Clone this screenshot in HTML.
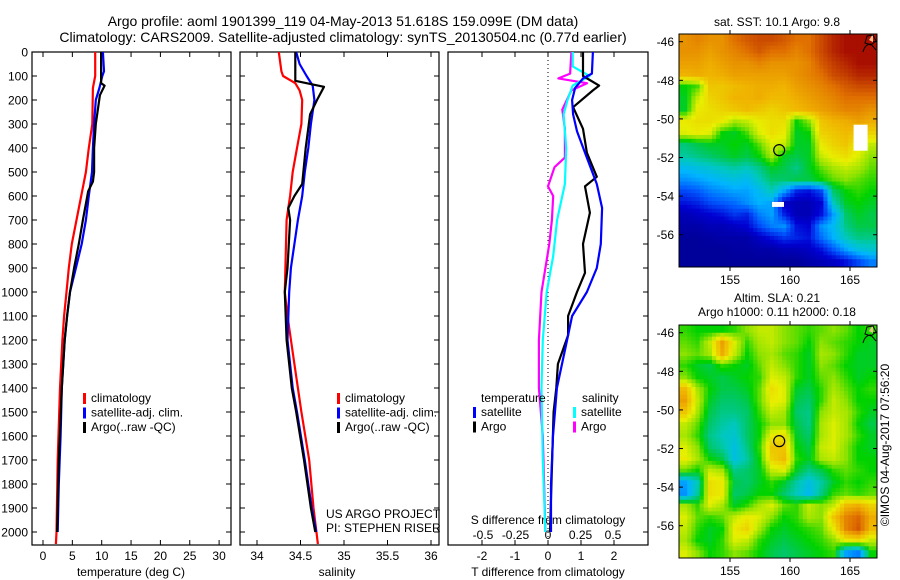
<!DOCTYPE html>
<html><head><meta charset="utf-8"><style>
html,body{margin:0;padding:0;background:#fff}
svg{display:block;font-family:"Liberation Sans",sans-serif}
</style></head><body>
<svg id="fig" width="900" height="580" viewBox="0 0 900 580" xmlns="http://www.w3.org/2000/svg">
<rect width="900" height="580" fill="#fff"/>
<text x="343" y="26" font-size="14" text-anchor="middle">Argo profile: aoml 1901399_119 04-May-2013 51.618S 159.099E (DM data)</text>
<text x="343" y="42" font-size="14" text-anchor="middle">Climatology: CARS2009. Satellite-adjusted climatology: synTS_20130504.nc (0.77d earlier)</text>
<g id="plots"></g>
</svg>
<script>
// ---------- DATA ----------
const depthTicks=[0,100,200,300,400,500,600,700,800,900,1000,1100,1200,1300,1400,1500,1600,1700,1800,1900,2000];
const tempTicks=[0,5,10,15,20,25,30];
const salTicks=[34,34.5,35,35.5,36];
const salTickLabels=["34","34.5","35","35.5","36"];
const tdiffTicks=[-2,-1,0,1,2];
const sdiffTicks=[-0.5,-0.25,0,0.25,0.5];
const sdiffTickLabels=["-0.5","-0.25","0","0.25","0.5"];

const tClimDepth=[0,100,150,300,400,500,600,700,800,900,1000,1100,1200,1400,1700,2000,2050];
const tClimVal=[8.9,8.9,8.5,8.4,7.8,7.3,6.5,5.7,4.9,4.4,4.0,3.6,3.3,2.9,2.5,2.3,2.2];
const tSatDepth=[0,80,100,150,200,300,400,500,600,700,800,900,1000,1100,1200,1400,1600,1800,2000];
const tSatVal=[10.2,10.4,10.1,9.6,9.0,8.7,8.5,8.35,7.8,7.3,6.6,5.6,4.6,4.1,3.7,3.2,3.0,2.7,2.5];
const tArgoDepth=[0,130,140,180,300,400,500,540,580,700,800,900,1000,1100,1200,1400,1700,2000];
const tArgoVal=[9.9,9.9,10.5,9.7,9.0,8.7,8.7,8.5,7.7,6.8,6.1,5.3,4.6,4.1,3.7,3.2,2.7,2.4];

const sClimDepth=[0,80,100,130,160,200,300,400,500,600,650,700,1000,1100,1300,1500,1700,1900,2050];
const sClimVal=[34.25,34.28,34.30,34.44,34.49,34.52,34.51,34.46,34.41,34.38,34.36,34.34,34.32,34.35,34.43,34.51,34.60,34.65,34.70];
const sSatDepth=[0,50,100,140,200,300,400,500,600,700,800,900,1000,1200,1400,1500,1700,1900,2000];
const sSatVal=[34.45,34.49,34.57,34.64,34.66,34.62,34.59,34.55,34.52,34.47,34.43,34.39,34.37,34.35,34.41,34.46,34.55,34.63,34.68];
const sArgoDepth=[0,120,130,145,200,260,400,550,600,650,700,900,1000,1200,1400,1500,1700,1900,2000];
const sArgoVal=[34.44,34.44,34.57,34.77,34.69,34.61,34.56,34.52,34.43,34.36,34.38,34.35,34.32,34.34,34.40,34.45,34.54,34.62,34.67];

const dtSatDepth=[0,90,110,150,200,260,330,420,550,650,800,900,1000,1100,1200,1400,1600,1800,2000];
const dtSatVal=[1.36,1.33,1.06,0.82,0.73,0.76,0.88,1.12,1.48,1.64,1.6,1.48,1.18,0.73,0.58,0.27,0.15,0.09,0.09];
const dtArgoDepth=[0,100,140,160,230,320,420,520,560,670,800,920,1000,1100,1180,1300,1400,1500,2000];
const dtArgoVal=[1.06,1.06,1.55,1.36,0.76,1.06,1.18,1.48,1.12,1.27,1.06,1.12,0.88,0.61,0.61,0.3,0.25,0.17,0.06];
const dsSatDepth=[0,60,100,140,200,260,400,550,700,850,1000,1200,1400,1700,2000];
const dsSatVal=[0.19,0.19,0.32,0.19,0.15,0.12,0.14,0.13,0.07,0.04,-0.01,-0.04,-0.05,-0.04,-0.02];
const dsArgoDepth=[0,90,110,130,160,240,320,440,480,560,600,700,800,900,1000,1100,1200,1400,1600,1800,2000];
const dsArgoVal=[0.18,0.17,0.08,0.30,0.18,0.11,0.13,0.13,0.05,0.0,0.04,0.03,0.01,-0.02,-0.05,-0.06,-0.07,-0.07,-0.04,-0.03,-0.02];

const mapLatTicks=[-46,-48,-50,-52,-54,-56];
const mapLonTicks=[155,160,165];
const sstGrid=[
[80,82,80,80,85,88,90,90,88,85,85,90,95,98,98,98],
[80,80,78,80,82,85,88,85,85,82,85,90,95,98,98,98],
[78,78,76,78,80,80,82,80,80,80,82,88,92,95,98,98],
[75,76,75,76,78,78,78,78,78,80,82,85,90,92,95,95],
[52,55,72,72,74,75,76,76,75,78,80,82,85,88,90,90],
[50,62,70,72,75,75,76,74,74,76,78,80,82,85,85,85],
[50,66,68,70,72,74,72,70,72,74,76,78,80,82,82,80],
[66,68,68,66,60,62,66,68,68,52,58,72,75,76,78,76],
[64,66,64,52,50,55,64,68,66,50,52,70,72,74,72,70],
[45,48,50,50,52,50,56,64,62,50,50,66,70,72,66,62],
[42,44,46,48,50,48,52,60,50,48,50,62,66,68,64,58],
[34,36,38,40,42,40,44,50,48,44,50,56,60,62,60,56],
[28,30,32,34,36,34,40,46,46,48,48,52,56,58,56,54],
[20,22,26,28,30,30,34,40,30,16,14,20,46,52,54,52],
[14,16,20,22,24,28,32,30,10,8,8,12,40,50,52,50],
[8,10,12,14,18,16,26,30,16,8,8,14,30,46,50,48],
[6,6,8,8,10,12,20,26,28,14,12,28,34,44,48,48],
[4,4,5,6,6,6,10,14,18,16,14,24,32,40,44,44],
[4,4,4,4,5,5,6,6,8,8,10,14,22,30,36,38],
[4,4,4,4,4,4,4,4,4,4,6,8,10,14,20,26]];
const slaGrid=[
[54,52,52,52,54,58,62,62,58,56,54,56,58,56,52,54],
[56,54,62,78,64,54,60,62,58,56,52,58,56,54,52,50],
[58,56,60,76,62,52,58,60,56,54,50,60,58,54,50,50],
[54,50,48,54,52,50,56,62,58,54,50,58,56,52,50,50],
[58,52,50,48,50,52,54,64,62,54,50,56,58,54,50,52],
[74,60,52,48,48,50,56,68,64,50,48,54,60,56,52,54],
[78,62,50,46,46,48,56,66,64,48,46,54,62,58,52,52],
[72,60,48,44,44,46,54,62,60,46,44,58,62,60,54,50],
[62,56,46,42,40,46,52,58,58,48,44,60,64,60,52,48],
[60,54,44,40,38,46,52,66,68,50,46,60,64,60,54,50],
[64,58,46,42,36,44,54,72,72,52,48,62,64,58,52,50],
[66,60,52,48,36,42,52,70,74,54,50,60,62,58,52,52],
[56,52,62,60,44,46,50,62,64,50,44,48,54,56,54,52],
[30,40,68,66,48,46,50,54,50,42,36,42,50,54,52,54],
[28,42,68,66,46,48,52,52,46,40,34,44,54,56,54,56],
[60,54,64,60,50,54,60,64,56,54,62,58,62,74,76,70],
[64,56,54,56,62,66,64,58,52,54,60,58,72,82,86,76],
[62,54,50,52,66,70,60,52,50,52,54,56,66,82,88,74],
[60,52,50,54,64,62,54,50,48,50,52,54,58,66,68,62],
[64,58,52,54,58,56,52,48,46,48,50,52,54,30,26,52]];
const argoLon=159.099, argoLat=-51.618;

// ---------- HELPERS ----------
const NS="http://www.w3.org/2000/svg";
const root=document.getElementById('plots');
function mk(tag,attrs,parent){const e=document.createElementNS(NS,tag);for(const k in attrs)e.setAttribute(k,attrs[k]);(parent||root).appendChild(e);return e;}
function txt(x,y,s,size,anchor,parent){const e=mk('text',{x:x,y:y,'font-size':size,'text-anchor':anchor||'middle'},parent);e.textContent=s;return e;}
const PT=52,PB=545,yD=d=>PT+d*0.24;
const xT=t=>43+t*5.87, xS=s=>257+(s-34)*87, xDT=v=>548+v*33, xDS=v=>548+v*130;

function panel(x0,x1,leftTicks,rightTicks,name){
  const g=mk('g',{});
  
  
  mk('rect',{x:x0,y:PT,width:x1-x0,height:PB-PT,fill:'none',stroke:'#000','stroke-width':1.2},g);
  depthTicks.forEach(d=>{
    if(leftTicks)mk('line',{x1:x0,x2:x0+5,y1:yD(d),y2:yD(d),stroke:'#000'},g);
    if(rightTicks)mk('line',{x1:x1-5,x2:x1,y1:yD(d),y2:yD(d),stroke:'#000'},g);
  });
  return g;
}
function xticks(g,vals,labels,fx,ly){
  vals.forEach((v,i)=>{const x=fx(v);
    mk('line',{x1:x,x2:x,y1:PT,y2:PT+5,stroke:'#000'},g);
    mk('line',{x1:x,x2:x,y1:PB-5,y2:PB,stroke:'#000'},g);
    const t=txt(x,ly,labels[i],12,'middle',g);
    
    
  });
}
function line(g,depths,vals,fx,color,name,w){
  const pts=depths.map((d,i)=>fx(vals[i]).toFixed(1)+','+yD(d).toFixed(1)).join(' ');
  const p=mk('polyline',{points:pts,fill:'none',stroke:color,'stroke-width':w||2.2,'stroke-linejoin':'round'},g);
  
  
}
function legend(g,x,y,items){
  items.forEach((it,i)=>{
    const yy=y+i*14.5;
    mk('rect',{x:x,y:yy-9,width:3,height:11,fill:it[0]},g);
    const t=txt(x+8,yy,it[1],12,'start',g);
    
    
  });
}

// ---------- PANEL 1: temperature ----------
const p1=panel(32,231,true,true,'temperature-panel');
depthTicks.forEach(d=>{const t=txt(28,yD(d)+4.5,String(d),12,'end',p1);
  
  });
xticks(p1,tempTicks,tempTicks.map(String),xT,560);
txt(131,576,'temperature (deg C)',12,'middle',p1);
line(p1,tClimDepth,tClimVal,xT,'#ff0000','temp-climatology-line');
line(p1,tSatDepth,tSatVal,xT,'#0000ff','temp-satellite-line');
line(p1,tArgoDepth,tArgoVal,xT,'#000000','temp-argo-line');
legend(p1,83,402,[['#ff0000','climatology'],['#0000ff','satellite-adj. clim.'],['#000','Argo(..raw -QC)']]);

// ---------- PANEL 2: salinity ----------
const p2=panel(240,439,true,true,'salinity-panel');
xticks(p2,salTicks,salTickLabels,xS,560);
txt(337,576,'salinity',12,'middle',p2);
line(p2,sClimDepth,sClimVal,xS,'#ff0000','sal-climatology-line');
line(p2,sSatDepth,sSatVal,xS,'#0000ff','sal-satellite-line');
line(p2,sArgoDepth,sArgoVal,xS,'#000000','sal-argo-line');
legend(p2,337,402,[['#ff0000','climatology'],['#0000ff','satellite-adj. clim.'],['#000','Argo(..raw -QC)']]);
txt(326,518,'US ARGO PROJECT',12,'start',p2);
txt(326,532,'PI: STEPHEN RISER',12,'start',p2);

// ---------- PANEL 3: differences ----------
const p3=panel(448,648,false,true,'difference-panel');
tdiffTicks.forEach(v=>{const x=xDT(v);
  mk('line',{x1:x,x2:x,y1:PT,y2:PT+5,stroke:'#000'},p3);
  mk('line',{x1:x,x2:x,y1:PB-5,y2:PB,stroke:'#000'},p3);
  const t=txt(x,560,String(v),12,'middle',p3);
  
  });
sdiffTicks.forEach((v,i)=>{const t=txt(xDS(v),539,sdiffTickLabels[i],12,'middle',p3);
  
  });
txt(548,524,'S difference from climatology',12,'middle',p3);
txt(548,576,'T difference from climatology',12,'middle',p3);
mk('line',{x1:xDT(0),x2:xDT(0),y1:PT,y2:PB,stroke:'#000','stroke-dasharray':'1,3'},p3);
line(p3,dsArgoDepth,dsArgoVal,xDS,'#ff00ff','sdiff-argo-line');
line(p3,dsSatDepth,dsSatVal,xDS,'#00ffff','sdiff-satellite-line');
line(p3,dtArgoDepth,dtArgoVal,xDT,'#000000','tdiff-argo-line');
line(p3,dtSatDepth,dtSatVal,xDT,'#0000ff','tdiff-satellite-line');
txt(481,402,'temperature',12,'start',p3);
txt(582,402,'salinity',12,'start',p3);
legend(p3,473,416,[['#0000ff','satellite'],['#000','Argo']]);
legend(p3,573,416,[['#00ffff','satellite'],['#ff00ff','Argo']]);

// ---------- MAPS ----------
const stops=[[0,[0,0,128]],[0.12,[0,0,210]],[0.22,[0,90,255]],[0.32,[0,180,255]],[0.4,[0,200,190]],[0.47,[0,200,90]],[0.52,[0,210,0]],[0.58,[140,226,0]],[0.65,[232,240,0]],[0.75,[240,180,0]],[0.85,[224,112,0]],[1,[160,0,0]]];
function cmap(v){v=Math.max(0,Math.min(1,v));for(let i=1;i<stops.length;i++){if(v<=stops[i][0]){const a=stops[i-1],b=stops[i],f=(v-a[0])/(b[0]-a[0]);const c=a[1].map((q,j)=>Math.round(q+(b[1][j]-q)*f));return 'rgb('+c.join(',')+')';}}return 'rgb(160,0,0)';}
const MX0=679,MX1=877,SUB=3;
const mLon=l=>MX0+(l-150.75)*12;
function sample(grid,fy,fx){
  const R=grid.length,C=grid[0].length;
  fy=Math.max(0,Math.min(R-1,fy));fx=Math.max(0,Math.min(C-1,fx));
  const r0=Math.floor(fy),c0=Math.floor(fx),r1=Math.min(R-1,r0+1),c1=Math.min(C-1,c0+1),a=fy-r0,b=fx-c0;
  return grid[r0][c0]*(1-a)*(1-b)+grid[r0][c1]*(1-a)*b+grid[r1][c0]*a*(1-b)+grid[r1][c1]*a*b;
}
function drawMap(top,grid,name){
  const bot=top+233;const mLat=la=>top+(-45.6-la)*19.3;
  const g=mk('g',{});
  
  
  const rows=grid.length,cols=grid[0].length,cw=(MX1-MX0)/cols/SUB,ch=(bot-top)/rows/SUB;
  for(let r=0;r<rows*SUB;r++)for(let c=0;c<cols*SUB;c++){
    const v=sample(grid,(r+0.5)/SUB-0.5,(c+0.5)/SUB-0.5);
    const cell=mk('rect',{x:(MX0+c*cw).toFixed(2),y:(top+r*ch).toFixed(2),width:(cw+0.5).toFixed(2),height:(ch+0.5).toFixed(2),fill:cmap(v/100)},g);
    
    
  }
  mk('rect',{x:MX0,y:top,width:MX1-MX0,height:bot-top,fill:'none',stroke:'#000','stroke-width':1},g);
  mapLatTicks.forEach(la=>{const y=mLat(la);
    mk('line',{x1:MX0,x2:MX0+4,y1:y,y2:y,stroke:'#000'},g);
    mk('line',{x1:MX1-4,x2:MX1,y1:y,y2:y,stroke:'#000'},g);
    const t=txt(674,y+4.5,String(la),12,'end',g);
    
    });
  mapLonTicks.forEach(lo=>{const x=mLon(lo);
    mk('line',{x1:x,x2:x,y1:top-4,y2:top,stroke:'#000'},g);
    mk('line',{x1:x,x2:x,y1:bot,y2:bot+4,stroke:'#000'},g);
    const t=txt(x,bot+17,String(lo),12,'middle',g);
    
    });
  mk('path',{d:`M${MX1-4} ${top} l0 8 l-4 -2 z`,fill:'#f4c090',stroke:'none'},g);
  mk('path',{d:`M${MX1-10} ${top+2} l6 -1 l3 6 l-5 4 l-6 -2 z M${MX1-14} ${top+18} q2 -8 8 -8 l5 6`,fill:'none',stroke:'#000','stroke-width':1},g);
  const circ=mk('circle',{cx:mLon(argoLon),cy:mLat(argoLat),r:5.5,fill:'none',stroke:'#000','stroke-width':1.2},g);
  
  
  return {g,mLat};
}
const m1=drawMap(34,sstGrid,'sst-map');
mk('rect',{x:mLon(165.3),y:m1.mLat(-50.3),width:14,height:26,fill:'#fff'},m1.g);
mk('rect',{x:mLon(158.5),y:m1.mLat(-54.3),width:12,height:5,fill:'#fff'},m1.g);
txt(777,26,'sat. SST: 10.1 Argo: 9.8',12,'middle');
const m2=drawMap(325,slaGrid,'sla-map');
txt(777,302,'Altim. SLA: 0.21',12,'middle');
txt(777,316,'Argo h1000: 0.11 h2000: 0.18',12,'middle');
const stamp=txt(0,0,'©IMOS 04-Aug-2017 07:56:20',12,'middle');
stamp.setAttribute('transform','translate(889,445) rotate(-90)');


</script>
</body></html>
